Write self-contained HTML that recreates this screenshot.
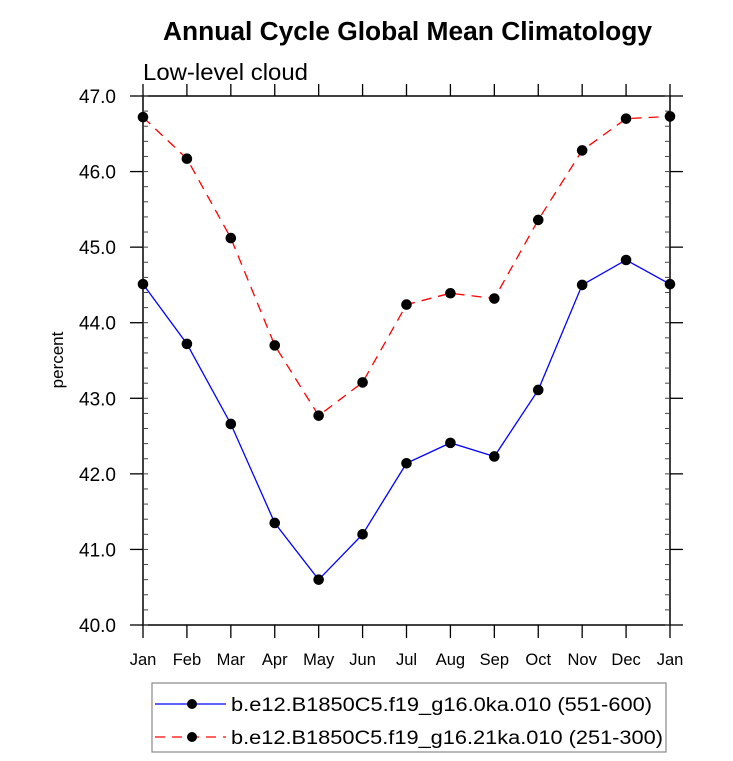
<!DOCTYPE html>
<html><head><meta charset="utf-8">
<style>
body{margin:0;background:#fff;width:733px;height:761px;overflow:hidden}
svg{display:block;font-family:"Liberation Sans",sans-serif}
</style></head>
<body>
<svg id="chart" width="733" height="761" xmlns="http://www.w3.org/2000/svg">
<text x="163" y="40" font-size="25.5" font-weight="bold" textLength="489" lengthAdjust="spacingAndGlyphs">Annual Cycle Global Mean Climatology</text>
<text x="143" y="80" font-size="23" textLength="165" lengthAdjust="spacingAndGlyphs">Low-level cloud</text>
<text transform="translate(63,360) rotate(-90)" text-anchor="middle" font-size="17">percent</text>
<g id="axes"></g>
<g id="series"></g>
<rect x="152" y="683" width="514" height="69" fill="none" stroke="#888" stroke-width="1.2"/>
<g>
<line x1="155" y1="704" x2="226" y2="704" stroke="#0000ff" stroke-width="1.3"/>
<circle cx="192" cy="704" r="5" fill="#000"/>
<text x="231" y="711" font-size="19" textLength="421" lengthAdjust="spacingAndGlyphs">b.e12.B1850C5.f19_g16.0ka.010 (551-600)</text>
</g>
<g>
<line x1="155" y1="737" x2="226" y2="737" stroke="#ff0000" stroke-width="1.3" stroke-dasharray="10,7"/>
<circle cx="192" cy="737" r="5" fill="#000"/>
<text x="231" y="744" font-size="19" textLength="432" lengthAdjust="spacingAndGlyphs">b.e12.B1850C5.f19_g16.21ka.010 (251-300)</text>
</g>
</svg>
<script>
const months = ["Jan","Feb","Mar","Apr","May","Jun","Jul","Aug","Sep","Oct","Nov","Dec","Jan"];
const yTicks = [40,41,42,43,44,45,46,47];
const yTickLabels = ["40.0","41.0","42.0","43.0","44.0","45.0","46.0","47.0"];
const blueValues = [44.51,43.72,42.66,41.35,40.60,41.20,42.14,42.41,42.23,43.11,44.50,44.83,44.51];
const redValues = [46.72,46.17,45.12,43.70,42.77,43.21,44.24,44.39,44.32,45.36,46.28,46.70,46.73];

const X0=143,X1=670,Y0=625,Y1=96,YMIN=40,YMAX=47;
const xs=i=>X0+(X1-X0)*i/(months.length-1);
const ys=v=>Y0-(v-YMIN)/(YMAX-YMIN)*(Y0-Y1);
const NS="http://www.w3.org/2000/svg";
function mk(t,a,p){const e=document.createElementNS(NS,t);for(const k in a)e.setAttribute(k,a[k]);p.appendChild(e);return e;}
const ax=document.getElementById('axes');
const fr=mk('rect',{x:X0,y:Y1,width:X1-X0,height:Y0-Y1,fill:'none',stroke:'#000','stroke-width':1.5},ax);


for(let v=YMIN;v<=YMAX+1e-9;v+=0.2){
  const y=ys(v);
  mk('line',{x1:X0,y1:y,x2:X0+5,y2:y,stroke:'#444','stroke-width':1},ax);
  mk('line',{x1:X1,y1:y,x2:X1-5,y2:y,stroke:'#444','stroke-width':1},ax);
}
yTicks.forEach((v,i)=>{
  const y=ys(v);
  mk('line',{x1:X0-13,y1:y,x2:X0,y2:y,stroke:'#000','stroke-width':1.3},ax);
  mk('line',{x1:X1,y1:y,x2:X1+13,y2:y,stroke:'#000','stroke-width':1.3},ax);
  const t=mk('text',{x:X0-27,y:y+7,'text-anchor':'end','font-size':19},ax);
  t.textContent=yTickLabels[i];
  
  
});
months.forEach((m,i)=>{
  const x=xs(i);
  mk('line',{x1:x,y1:Y1,x2:x,y2:Y1-12,stroke:'#000','stroke-width':1.3},ax);
  mk('line',{x1:x,y1:Y0,x2:x,y2:Y0+13,stroke:'#000','stroke-width':1.3},ax);
  const t=mk('text',{x:x,y:Y0+40,'text-anchor':'middle','font-size':16.5},ax);
  t.textContent=m;
  
  
});
const sg=document.getElementById('series');
function series(vals,color,dash,name){
  const g=mk('g',{},sg);
  
  
  const pts=vals.map((v,i)=>xs(i)+','+ys(v)).join(' ');
  const a={points:pts,fill:'none',stroke:color,'stroke-width':1.3};
  if(dash)a['stroke-dasharray']=dash;
  mk('polyline',a,g);
  vals.forEach((v,i)=>{
    const c=mk('circle',{cx:xs(i),cy:ys(v),r:5.3,fill:'#000'},g);
    
    
  });
}
series(blueValues,'#0000ff',null,'series-0ka');
series(redValues,'#ff0000','10,7','series-21ka');
</script>
</body></html>
